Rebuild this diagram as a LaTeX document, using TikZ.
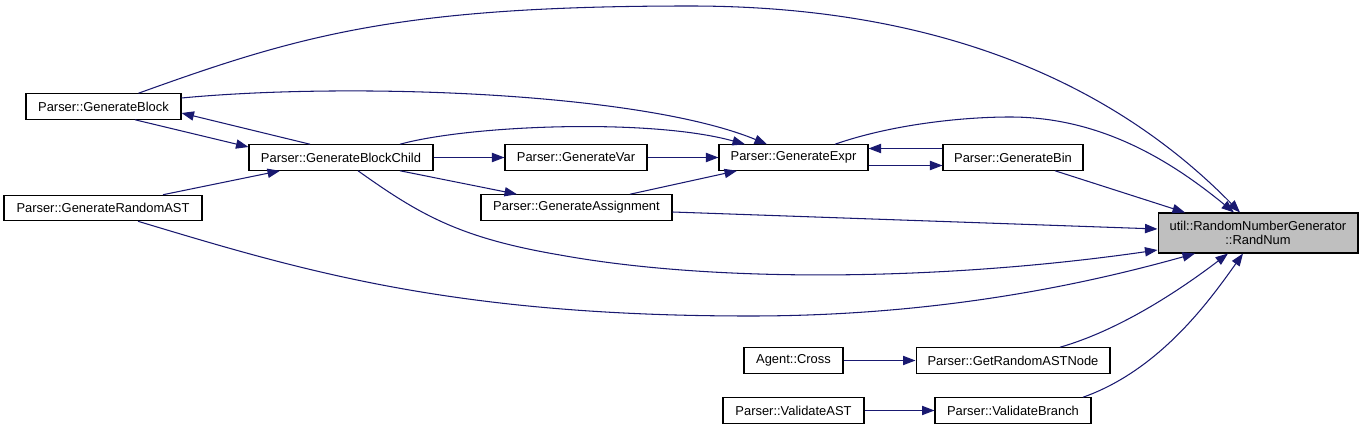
\documentclass[tikz,border=0pt]{standalone}
\usepackage{fontspec}
\setmainfont{Liberation Sans}
\usetikzlibrary{arrows.meta,calc}
\definecolor{edgeblue}{HTML}{191970}
\definecolor{hitgray}{HTML}{BFBFBF}

\begin{document}
\begin{tikzpicture}[x=0.02cm, y=-0.02cm,
    fn/.style={draw=black, fill=white, line width=0.6pt, inner sep=0pt,
      minimum height=0.51cm, font=\fontsize{7.35}{7.9}\selectfont, align=center},
    call/.style={draw=edgeblue, line width=0.6pt, -{Triangle[length=2.5mm,width=1.85mm]}}]
    \useasboundingbox (0,0) rectangle (1363,429);
    \node[fn, minimum width=3.10cm] (blk) at (103.5, 106.5) {Parser::GenerateBlock};
    \node[fn, minimum width=3.68cm] (chd) at (341, 157.5) {Parser::GenerateBlockChild};
    \node[fn, minimum width=3.96cm] (rast) at (103, 208) {Parser::GenerateRandomAST};
    \node[fn, minimum width=2.84cm] (var) at (576, 157.5) {Parser::GenerateVar};
    \node[fn, minimum width=3.82cm] (asg) at (576.5, 207.5) {Parser::GenerateAssignment};
    \node[fn, minimum width=2.98cm] (expr) at (793.5, 157.5) {Parser::GenerateExpr};
    \node[fn, minimum width=2.80cm] (bin) at (1013, 157.5) {Parser::GenerateBin};
    \node[fn, fill=hitgray, minimum width=4.00cm, minimum height=0.80cm] (rnd) at (1258, 233) {util::RandomNumberGenerator\\::RandNum};
    \node[fn, minimum width=1.98cm] (cross) at (793.5, 360.5) {Agent::Cross};
    \node[fn, minimum width=3.88cm] (grn) at (1013, 360.5) {Parser::GetRandomASTNode};
    \node[fn, minimum width=2.82cm] (vast) at (793.5, 410.5) {Parser::ValidateAST};
    \node[fn, minimum width=3.12cm] (vbr) at (1013, 410.5) {Parser::ValidateBranch};
    % callers of the block generator
    \draw [call] ($(blk.north)+(35,0)$) .. controls (300,35) and (400,6) .. (690,6)
      .. controls (950,6) and (1120,90) .. ($(rnd.north)+(-18,0)$);
    \draw [call] ($(blk.east)+(0,-8.5)$) .. controls (350,82) and (640,92) .. ($(expr.north)+(-26.5,0)$);
    \draw [call] ($(chd.north)+(-31,0)$) -- ($(blk.east)+(0,6.5)$);
    \draw [call] ($(blk.south)+(31.5,0)$) -- ($(chd.west)+(0,-10.5)$);
    \draw [call] ($(rast.north)+(60,0)$) -- ($(chd.south)+(-61,0)$);
    \draw [call] ($(rast.south)+(35,0)$) .. controls (300,270) and (450,316) .. (750,316)
      .. controls (950,316) and (1100,280) .. ($(rnd.south)+(-63,0)$);
    % block child
    \draw [call] ($(chd.north)+(59,0)$) .. controls (470,125) and (650,118) .. ($(expr.north)+(-48.5,0)$);
    \draw [call] (chd) -- (var);
    \draw [call] ($(chd.south)+(59,0)$) -- ($(asg.north)+(-59.5,0)$);
    \draw [call] ($(chd.south)+(17,0)$) .. controls (420,215) and (460,238) .. (560,255)
      .. controls (720,284) and (950,280) .. ($(rnd.west)+(0,17)$);
    % expression generators
    \draw [call] (var) -- (expr);
    \draw [call] ($(asg.north)+(53.5,0)$) -- ($(expr.south)+(-56.5,0)$);
    \draw [call] ($(asg.east)+(0,4.5)$) -- ($(rnd.west)+(0,-4)$);
    \draw [call] ($(expr.east)+(0,8)$) -- ($(bin.west)+(0,8)$);
    \draw [call] ($(bin.west)+(0,-9)$) -- ($(expr.east)+(0,-9)$);
    \draw [call] ($(expr.north)+(41.5,0)$) .. controls (890,125) and (960,117) .. (1010,117)
      .. controls (1100,117) and (1170,160) .. ($(rnd.north)+(-24,0)$);
    \draw [call] ($(bin.south)+(42,0)$) -- ($(rnd.north)+(-73,0)$);
    % lower callers
    \draw [call] ($(grn.north)+(47,0)$) .. controls (1120,330) and (1180,290) .. ($(rnd.south)+(-30,0)$);
    \draw [call] ($(vbr.north)+(70,0)$) .. controls (1160,370) and (1210,300) .. ($(rnd.south)+(-15,0)$);
    \draw [call] (cross) -- (grn);
    \draw [call] (vast) -- (vbr);
\end{tikzpicture}
\end{document}
